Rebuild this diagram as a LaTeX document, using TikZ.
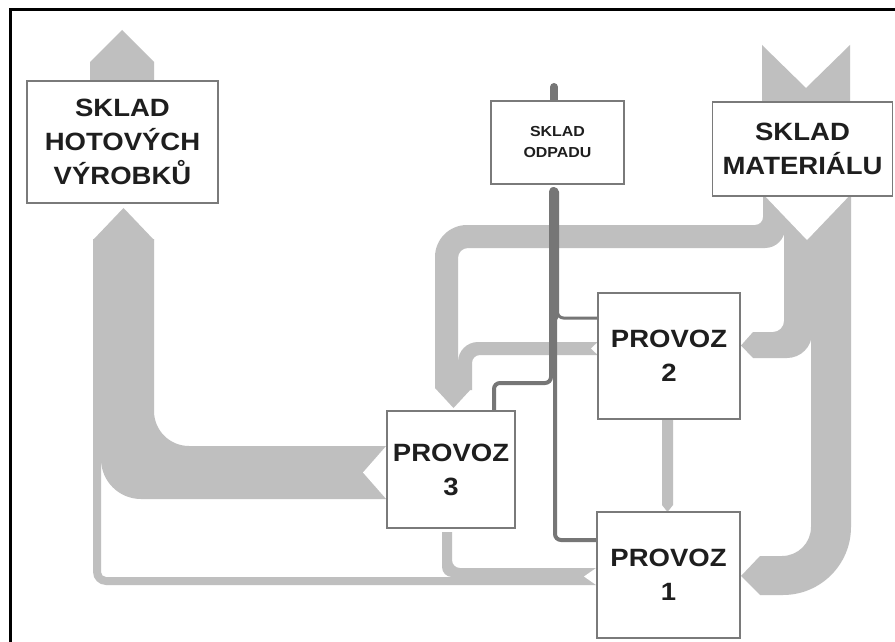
\documentclass[tikz,border=0pt]{standalone}
\usepackage{fontspec}
\setmainfont{Liberation Sans}
\definecolor{flow}{HTML}{BFBFBF}
\definecolor{waste}{HTML}{767676}
\definecolor{boxline}{HTML}{7A7A7A}
\definecolor{txt}{HTML}{1E1E1E}
\newcommand{\wx}[1]{\scalebox{1.1}[1]{#1}}
\tikzset{
  flowband/.style={fill=flow},
  notch/.style={fill=white},
  wasteline/.style={draw=waste, line cap=round, rounded corners=6pt},
  storebox/.style={draw=boxline, line width=1.6pt, fill=white, inner sep=0pt,
    align=center, text=txt, font=\bfseries\fontsize{25}{34}\selectfont},
  smallbox/.style={storebox, font=\bfseries\fontsize{14.5}{21}\selectfont},
}
\begin{document}
\begin{tikzpicture}[x=1pt,y=-1pt]
\useasboundingbox (0,0) rectangle (895,642);
\fill[white] (0,0) rectangle (895,642);

% ---- light flows ----
% outside -> material store
\fill[flowband] (762,45) -- (806,88) -- (850,45) -- (850,106) -- (762,106) -- cycle;
% finished goods -> outside
\fill[flowband] (90,85) -- (90,62) -- (122,30) -- (154,62) -- (154,85) -- cycle;
% arrow head into finished goods store from below
\fill[flowband] (93,240) -- (123.5,208) -- (154,240) -- cycle;
% P3 -> finished goods
\fill[flowband] (390,446) -- (189,446) arc[start angle=90,end angle=180,radius=35]
  -- (154,239) -- (101,239) -- (101,459) arc[start angle=180,end angle=90,radius=40]
  -- (390,499) -- cycle;
% P1 -> finished goods (thin)
\fill[flowband] (600,577) -- (106,577) arc[start angle=90,end angle=180,radius=5]
  -- (101,239) -- (93,239) -- (93,572) arc[start angle=180,end angle=90,radius=13]
  -- (600,585) -- cycle;
% P1 -> P3
\fill[flowband] (600,568) -- (460,568) arc[start angle=90,end angle=180,radius=8]
  -- (452,532) -- (442,532) -- (442,567) arc[start angle=180,end angle=90,radius=10]
  -- (600,578) -- cycle;
% P2 -> P1
\fill[flowband] (662,417) -- (662,505) -- (667.5,512) -- (673,505) -- (673,417) -- cycle;
% material -> P3
\fill[flowband] (763,196) -- (763,217) arc[start angle=0,end angle=90,radius=8]
  -- (467,225) arc[start angle=270,end angle=180,radius=32]
  -- (435,388) -- (453.5,408) -- (472,388) -- (458,388)
  -- (458,258) arc[start angle=180,end angle=270,radius=10]
  -- (765,248) arc[start angle=90,end angle=0,radius=20] -- (785,196) -- cycle;
% P2 -> P3
\fill[flowband] (600,342) -- (478,342) arc[start angle=270,end angle=180,radius=20]
  -- (458,390) -- (472,390) -- (472,363) arc[start angle=180,end angle=270,radius=8]
  -- (600,355) -- cycle;
% material -> P2
\fill[flowband] (784,196) -- (784,321) arc[start angle=0,end angle=90,radius=11]
  -- (753,332) -- (741,345.5) -- (753,358) -- (787,358)
  arc[start angle=90,end angle=0,radius=25] -- (812,196) -- cycle;
% material -> P1
\fill[flowband] (811,196) -- (811,527) arc[start angle=0,end angle=90,radius=29]
  -- (760,556) -- (741,576) -- (760,595) -- (783,595)
  arc[start angle=90,end angle=0,radius=68] -- (851,196) -- cycle;

% ---- notches (flow tails) ----
\fill[notch] (763,194) -- (807,240) -- (851,194) -- cycle;
\fill[notch] (388,444) -- (363,472.5) -- (388,501) -- cycle;
\fill[notch] (599,566) -- (584,576.5) -- (599,587) -- cycle;
\fill[notch] (600,340) -- (591,348.5) -- (600,357) -- cycle;

% ---- waste flows ----
\draw[wasteline, line width=8pt] (554,87) -- (554,104);
\draw[wasteline, line width=10pt] (553.5,192) -- (553.5,316);
\draw[wasteline, line width=4pt] (600,540) -- (555,540) -- (555,192);
\draw[wasteline, line width=4pt] (494,413) -- (494,383) -- (551,383) -- (551,192);
\draw[wasteline, line width=3pt] (600,318) -- (557.5,318) -- (557.5,192);

% ---- stores and plants ----
\node[storebox, minimum width=191pt, minimum height=122pt] (hot) at (122.5,142)
  {\wx{SKLAD}\\\wx{HOTOVÝCH}\\\wx{VÝROBKŮ}};
\node[smallbox, minimum width=133pt, minimum height=83pt] (odp) at (557.5,142.5)
  {\wx{SKLAD}\\\wx{ODPADU}};
\node[storebox, minimum width=180pt, minimum height=94pt] (mat) at (802.5,149)
  {\wx{SKLAD}\\\wx{MATERIÁLU}};
\node[storebox, minimum width=142pt, minimum height=126pt] (p2) at (669,356)
  {\wx{PROVOZ}\\\wx{2}};
\node[storebox, minimum width=128pt, minimum height=117pt] (p3) at (451,469.5)
  {\wx{PROVOZ}\\\wx{3}};
\node[storebox, minimum width=143pt, minimum height=126pt] (p1) at (668.5,575)
  {\wx{PROVOZ}\\\wx{1}};

% ---- frame ----
\draw[line width=2.5pt] (10.5,642) -- (10.5,9.5) -- (895,9.5);
\end{tikzpicture}
\end{document}
